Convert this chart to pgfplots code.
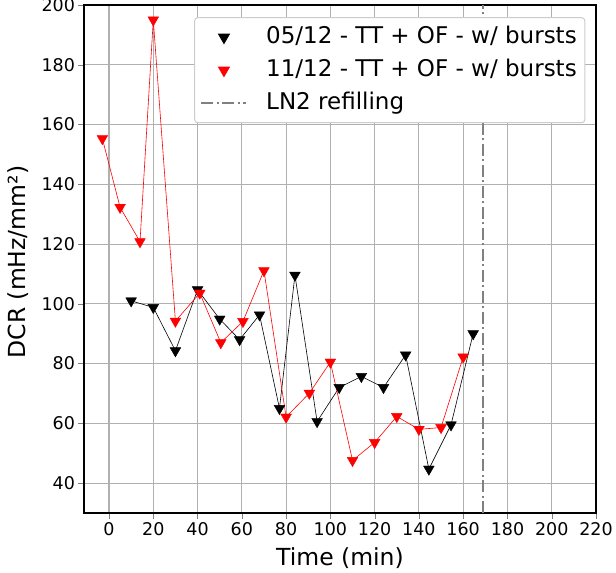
\documentclass[border=0pt]{standalone}
\usepackage{fontspec}
\setmainfont{DejaVu Sans}
\usepackage{pgfplots}
\usepackage{pgfplotstable}
\pgfplotsset{compat=1.18}

\pgfplotstableread{
x y
10 101
20 98.8
30 84.3
40 104.7
50 94.9
59 88
68 96.3
77 65
84 109.6
94 60.6
104 72
114 75.7
124 72
134 82.9
144.5 44.7
154.5 59.5
164.5 90
}\blackdata

\pgfplotstableread{
x y
-3 155.3
5 132.3
14 120.8
20 195
30 94.2
41 103.6
50.5 87
60.5 94.1
70 111.1
80 62.1
90.5 70.1
100 80.5
110 47.6
120 53.6
130 62.3
140 58
150 58.6
160 82.2
}\reddata

\newcommand\tickfont{\fontsize{17.5}{20}\selectfont}
\pgfplotsset{
  markleg/.style={legend image code/.code={\path (0pt,0pt) (45pt,0pt); \draw[##1] plot coordinates {(22.5pt,0pt)};}},
  lineleg/.style={legend image code/.code={\draw[##1] (0pt,0pt) -- (45pt,0pt);}},
}
\definecolor{gridgray}{RGB}{176,176,176}

\begin{document}
\begin{tikzpicture}
\begin{axis}[name=ax, scale only axis, width=512pt, height=508pt,
  xmin=-11.3, xmax=220, ymin=30, ymax=200,
  xtick={0,20,40,60,80,100,120,140,160,180,200,220},
  ytick={40,60,80,100,120,140,160,180,200},
  xmajorgrids, ymajorgrids,
  grid style={gridgray, line width=1.1pt},
  axis line style={line width=1.1pt},
  xtick align=outside, ytick align=outside, tick pos=left,
  major tick length=5.5pt,
  ticklabel style={font=\tickfont},
  /pgf/number format/assume math mode=true,
  xlabel={Time (min)}, ylabel={DCR (mHz/mm²)},
  label style={font=\fontsize{23.5}{27}\selectfont, inner sep=0pt},
  xlabel style={at={(axis description cs:0.5,0)}, anchor=north, yshift=-34pt},
  ylabel style={at={(axis description cs:-0.129,0.494)}, anchor=center},
  legend cell align=left,
  legend style={at={(rel axis cs:0.979,0.976)}, anchor=north east,
    font=\fontsize{23}{27}\selectfont, draw=black!20, rounded corners=3pt,
    fill=white, line width=1pt,
    inner xsep=6pt, inner ysep=6.5pt, row sep=7pt, column sep=17pt,
    nodes={inner sep=2pt, text height=17pt, text depth=5pt}},
]
\addplot[black, line width=0.6pt, forget plot] table {\blackdata};
\addplot[red, line width=0.6pt, forget plot] table {\reddata};
\addplot[only marks, black, mark=triangle*, mark size=6.2pt, mark options={rotate=180}, markleg]
  table {\blackdata};
\addlegendentry{05/12 - TT + OF - w/ bursts}
\addplot[only marks, red, mark=triangle*, mark size=6.2pt, mark options={rotate=180}, markleg]
  table {\reddata};
\addlegendentry{11/12 - TT + OF - w/ bursts}
\addplot[color=black!50, line width=1.5pt, dash pattern=on 12pt off 3.5pt on 2pt off 3.5pt, lineleg]
  coordinates {(169,30) (169,200)};
\addlegendentry{LN2 refilling}
\end{axis}
\pgfresetboundingbox
\path[use as bounding box] ([xshift=-84pt,yshift=-60pt]ax.south west) rectangle ([xshift=20pt,yshift=5pt]ax.north east);
\end{tikzpicture}
\end{document}
